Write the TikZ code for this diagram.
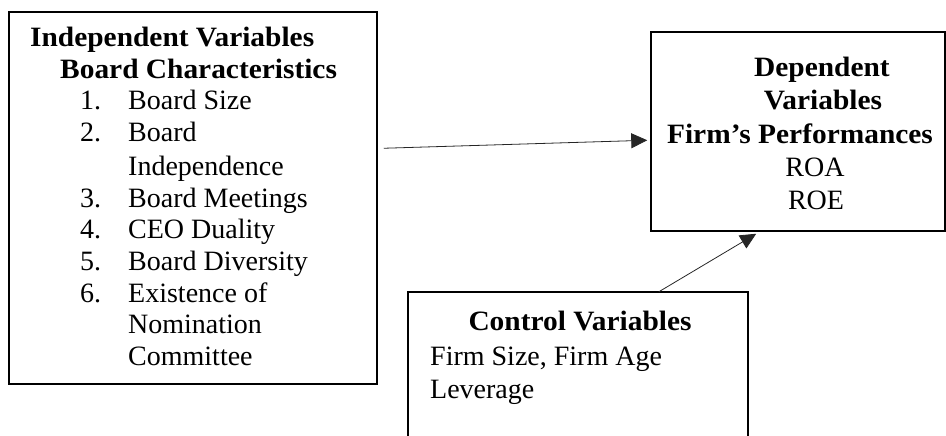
\documentclass[tikz,border=0pt]{standalone}
\usepackage{fontspec}
\setmainfont{Liberation Serif}[BoldFeatures={FakeStretch=1.05}]
\usetikzlibrary{arrows.meta,calc}
\tikzset{
  box/.style={draw=black,line width=1.5pt,inner sep=0pt},
  txt/.style={inner sep=0pt,font=\fontsize{28}{32}\selectfont},
  btxt/.style={inner sep=0pt,font=\fontsize{28}{32}\selectfont\bfseries},
  lft/.style={anchor=base west},
  ctr/.style={anchor=base},
  arr/.style={line width=0.8pt,draw=black!85,-{Triangle[length=16pt,width=15pt]}}
}
\begin{document}
\begin{tikzpicture}[x=1pt,y=-1pt]
\useasboundingbox (0,0) rectangle (946,436);
% left box
\node[box,minimum width=368pt,minimum height=372pt] (L) at (193,198) {};
\node[btxt,lft] (l1) at (30,47) {Independent Variables};
\node[btxt,lft] (l2) at (60,78) {Board Characteristics};
\node[txt,lft] (n1) at (80,110) {1.};
\node[txt,lft] (i1) at (128,110) {Board Size};
\node[txt,lft] (n2) at (80,142) {2.};
\node[txt,lft] (i2) at (128,142) {Board};
\node[txt,lft] (i2b) at (128,175) {Independence};
\node[txt,lft] (n3) at (80,207) {3.};
\node[txt,lft] (i3) at (128,207) {Board Meetings};
\node[txt,lft] (n4) at (80,238) {4.};
\node[txt,lft] (i4) at (128,238) {CEO Duality};
\node[txt,lft] (n5) at (80,270) {5.};
\node[txt,lft] (i5) at (128,270) {Board Diversity};
\node[txt,lft] (n6) at (80,302) {6.};
\node[txt,lft] (i6) at (128,302) {Existence of};
\node[txt,lft] (i6b) at (128,333) {Nomination};
\node[txt,lft] (i6c) at (128,365) {Committee};
% right box
\node[box,minimum width=294pt,minimum height=199pt] (R) at (798,131.5) {};
\node[btxt,ctr] (r1) at (822,77) {Dependent};
\node[btxt,ctr] (r2) at (823,110) {Variables};
\node[btxt,ctr] (r3) at (800,143) {Firm’s Performances};
\node[txt,ctr] (r4) at (815,176) {ROA};
\node[txt,ctr] (r5) at (816,209) {ROE};
% control box (open at the bottom)
\node[inner sep=0pt,minimum width=340pt,minimum height=144pt] (C) at (578,364) {};
\draw[line width=1.5pt] (C.south west) -- (C.north west) -- (C.north east) -- (C.south east);
\node[btxt,ctr] (c1) at (580,330) {Control Variables};
\node[txt,lft] (c2) at (430,365) {Firm Size, Firm Age};
\node[txt,lft] (c3) at (430,398) {Leverage};
% connectors
\coordinate (s1) at ($(L.north east)+(6,137)$);
\coordinate (e1) at ($(R.north west)+(-3,109)$);
\draw[arr] (s1) -- (e1);
\coordinate (s2) at ($(C.north west)+(251,0)$);
\coordinate (e2) at ($(R.south west)+(106,2)$);
\draw[arr] (s2) -- (e2);
\end{tikzpicture}
\end{document}
